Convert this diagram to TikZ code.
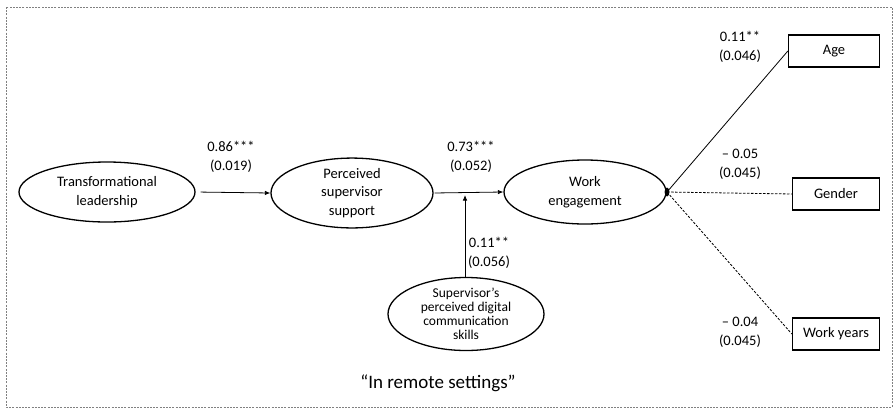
\documentclass[tikz,border=0pt]{standalone}
\usepackage{fontspec}
\setmainfont{Carlito}
\usetikzlibrary{shapes.geometric,arrows.meta,calc}
\begin{document}
\begin{tikzpicture}[x=1pt,y=-1pt,
  lat/.style={ellipse,draw,line width=1.3pt,inner sep=0pt,align=center,font=\fontsize{14.5}{18.5}\selectfont},
  ctl/.style={rectangle,draw,line width=1.3pt,inner sep=0pt,minimum height=32pt,font=\fontsize{14.5}{17}\selectfont},
  lbl/.style={align=center,font=\fontsize{14.5}{19}\selectfont,inner sep=0pt},
  arr/.style={line width=0.8pt,-{Latex[length=5.5pt,width=4.5pt]}},
  ln/.style={line width=0.8pt},
  dsh/.style={line width=0.8pt,dash pattern=on 2.5pt off 1.5pt}]
\useasboundingbox (0,0) rectangle (896,410);
\draw[gray,line width=0.6pt,dash pattern=on 2pt off 1.2pt] (6,7) rectangle (892,407);
\node[lat,minimum width=176pt,minimum height=60pt] (tl) at (107,192) {Transformational\\leadership};
\node[lat,minimum width=162pt,minimum height=68pt] (pss) at (352,193) {Perceived\\supervisor\\support};
\node[lat,minimum width=162pt,minimum height=64pt] (we) at (585,192) {Work\\engagement};
\node[lat,minimum width=156pt,minimum height=66pt,font=\fontsize{13.5}{14}\selectfont] (sds) at (466,314) {Supervisor's\\perceived digital\\communication\\skills};
\node[ctl,minimum width=91pt] (age) at (834,51) {Age};
\node[ctl,minimum width=87pt] (gen) at (836,194) {Gender};
\node[ctl,minimum width=87pt] (wy) at (836,334) {Work years};
\coordinate (m) at (465,192);
\coordinate (j) at (667,192);
\draw[arr,shorten <=5pt] (tl.east) -- (pss.west);
\draw[arr,shorten <=1pt] (pss.east) -- (we.west);
\draw[arr,shorten >=3pt] (sds.north -| m) -- (m);
\draw[ln] (j) -- (age.west);
\draw[dsh] (j) -- (gen.west);
\draw[dsh] (j) -- (wy.west);
\fill (j) ellipse (2.4pt and 4.5pt);
\node[lbl] (l1) at (231,157) {0.86***\\(0.019)};
\node[lbl] (l2) at (471,157) {0.73***\\(0.052)};
\node[lbl] (l3) at (489,253) {0.11**\\(0.056)};
\node[lbl] (l4) at (740,47) {0.11**\\(0.046)};
\node[lbl] (l5) at (740,164) {– 0.05\\(0.045)};
\node[lbl] (l6) at (740,332) {– 0.04\\(0.045)};
\node[font=\fontsize{19}{22}\selectfont] (cap) at (438,383) {“In remote settings”};
\end{tikzpicture}
\end{document}
